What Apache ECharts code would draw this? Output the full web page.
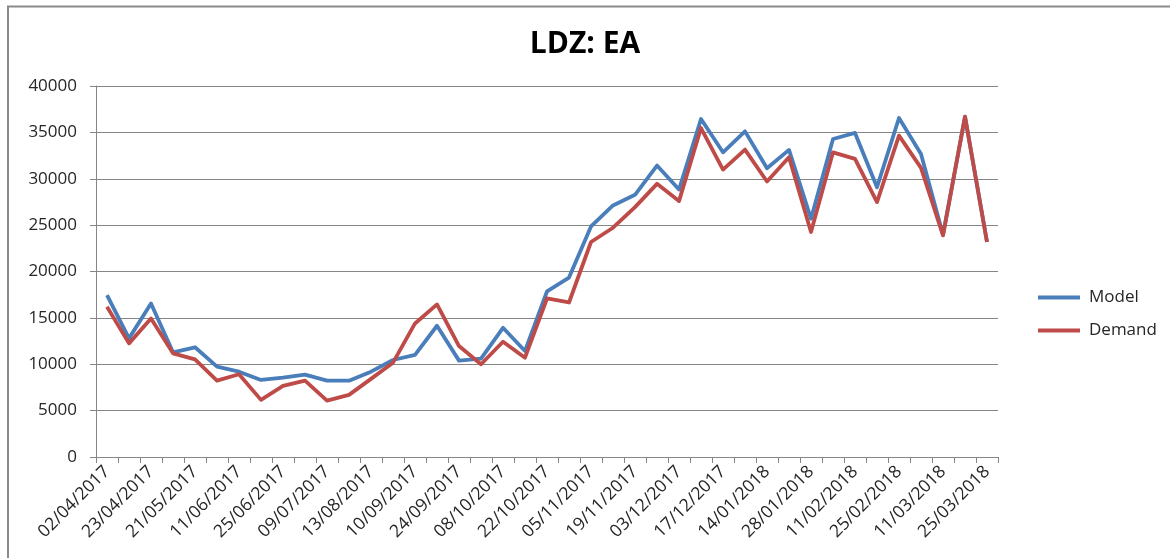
<!DOCTYPE html>
<html>
<head>
<meta charset="utf-8">
<script src="https://cdn.jsdelivr.net/npm/echarts@6/dist/echarts.min.js"></script>
<style>
html,body{margin:0;padding:0;background:#fff;}
#chart{width:1170px;height:558px;}
</style>
</head>
<body>
<div id="chart"></div>
<script>
const categories = [
  '02/04/2017','09/04/2017','23/04/2017','07/05/2017','21/05/2017','28/05/2017',
  '11/06/2017','18/06/2017','25/06/2017','02/07/2017','09/07/2017','23/07/2017',
  '13/08/2017','27/08/2017','10/09/2017','17/09/2017','24/09/2017','01/10/2017',
  '08/10/2017','15/10/2017','22/10/2017','29/10/2017','05/11/2017','12/11/2017',
  '19/11/2017','26/11/2017','03/12/2017','10/12/2017','17/12/2017','07/01/2018',
  '14/01/2018','21/01/2018','28/01/2018','04/02/2018','11/02/2018','18/02/2018',
  '25/02/2018','04/03/2018','11/03/2018','18/03/2018','25/03/2018'
];
const modelValues = [
  17450,12790,16550,11290,11830,9740,
  9200,8310,8560,8880,8230,8230,
  9200,10460,11000,14150,10390,10600,
  13930,11430,17850,19350,24860,27120,
  28270,31420,28840,36440,32850,35110,
  31130,33110,25690,34290,34940,29090,
  36550,32680,23950,36690,23180
];
const demandValues = [
  16190,12250,14940,11180,10530,8230,
  8920,6160,7660,8230,6080,6700,
  8420,10170,14400,16450,11960,10000,
  12430,10710,17090,16660,23180,24720,
  26940,29450,27590,35470,30990,33140,
  29700,32320,24250,32850,32140,27480,
  34650,31180,23900,36690,23180
];
const seriesNames = ['Model','Demand'];
const chartTitle = 'LDZ: EA';

const chart = echarts.init(document.getElementById('chart'));
const font = '"Open Sans", "Liberation Sans", sans-serif';
chart.setOption({
  backgroundColor: '#ffffff',
  animation: false,
  title: {
    text: chartTitle,
    left: 'center',
    top: 24,
    textStyle: { fontFamily: font, fontWeight: 'bold', fontSize: 30, color: '#000000' }
  },
  legend: {
    orient: 'vertical',
    left: 1033,
    top: 284,
    itemWidth: 42,
    itemHeight: 4,
    itemGap: 16,
    icon: 'rect',
    data: seriesNames,
    textStyle: { fontFamily: font, fontSize: 17, color: '#262626', padding: [0,0,0,4] }
  },
  grid: { left: 96, right: 172, top: 86, bottom: 101, containLabel: false },
  xAxis: {
    type: 'category',
    data: categories,
    boundaryGap: true,
    axisLine: { lineStyle: { color: '#868686', width: 1 } },
    axisTick: { show: true, interval: 0, length: 6, lineStyle: { color: '#868686' } },
    axisLabel: {
      interval: 1,
      rotate: 45,
      margin: 12,
      fontFamily: font,
      fontSize: 17.5,
      color: '#262626'
    }
  },
  yAxis: {
    type: 'value',
    min: 0,
    max: 40000,
    interval: 5000,
    axisLine: { show: true, lineStyle: { color: '#868686', width: 1 } },
    axisTick: { show: true, length: 6, lineStyle: { color: '#868686' } },
    splitLine: { show: true, lineStyle: { color: '#868686', width: 1 } },
    axisLabel: {
      margin: 19, fontFamily: font, fontSize: 17, color: '#262626',
      formatter: function (v) { return String(v); }
    }
  },
  series: [
    {
      name: seriesNames[0],
      type: 'line',
      data: modelValues,
      symbol: 'none',
      color: '#4A7EBB',
      lineStyle: { width: 3.8, color: '#4A7EBB', join: 'round' }
    },
    {
      name: seriesNames[1],
      type: 'line',
      data: demandValues,
      symbol: 'none',
      color: '#BE4B48',
      lineStyle: { width: 3.8, color: '#BE4B48', join: 'round' }
    }
  ],
  graphic: [
    {
      type: 'polyline',
      silent: true,
      shape: { points: [[8, 560], [8, 6.5], [1172, 6.5]] },
      style: { stroke: '#8a8a8a', lineWidth: 2, fill: null }
    }
  ]
});
</script>
</body>
</html>
